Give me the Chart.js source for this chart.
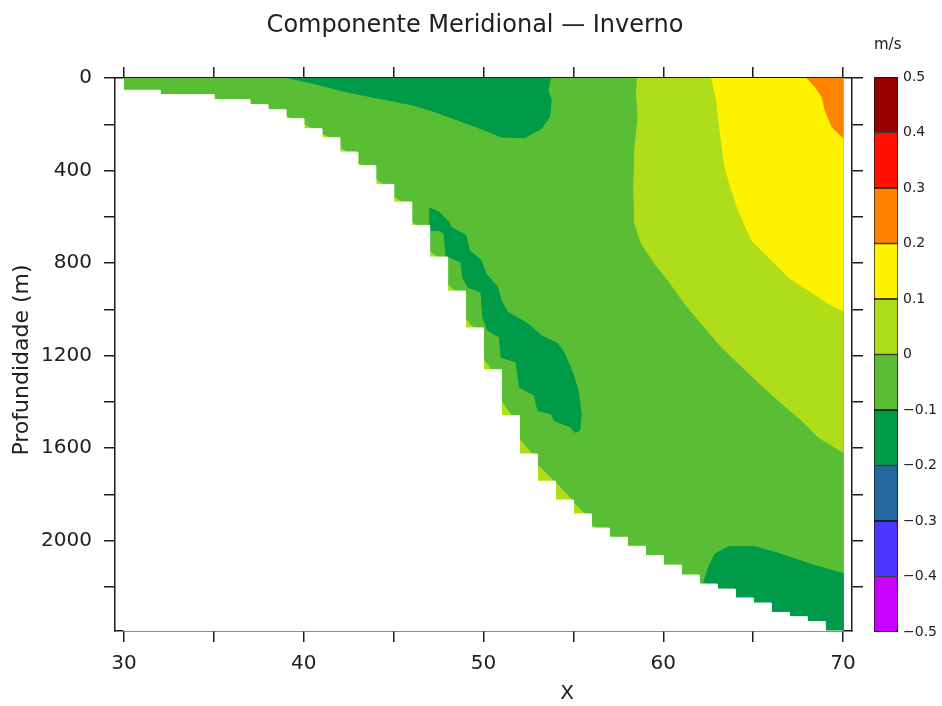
<!DOCTYPE html>
<html>
<head>
<meta charset="utf-8">
<title>Componente Meridional - Inverno</title>
<script src="https://cdn.jsdelivr.net/npm/chart.js@4.4.1/dist/chart.umd.min.js"></script>
<style>
  body { margin: 0; background: #fff; }
  #wrap { position: relative; width: 942px; height: 706px; }
  #secao { position: absolute; left: 0; top: 0; }
  #barra { position: absolute; left: 838px; top: 0; }
</style>
</head>
<body>
<div id="wrap">
  <canvas id="secao" width="942" height="706"></canvas>
  <canvas id="barra" width="104" height="706"></canvas>
</div>
<script>
const chartTitle = 'Componente Meridional \u2014 Inverno';
const xTitle = 'X';
const yTitle = 'Profundidade (m)';
const unitsTitle = 'm/s';

// axes
const xMin = 29.5, xMax = 70.5, depthMax = 2390;
const xTicks = [30, 35, 40, 45, 50, 55, 60, 65, 70];
const xLabeled = [30, 40, 50, 60, 70];
const depthTicks = [0, 200, 400, 600, 800, 1000, 1200, 1400, 1600, 1800, 2000, 2200];
const depthLabeled = [0, 400, 800, 1200, 1600, 2000];

// contour levels (m/s) and shading
const levels = [-0.5, -0.4, -0.3, -0.2, -0.1, 0, 0.1, 0.2, 0.3, 0.4, 0.5];
const levelColors = ['#c800ff', '#4b37ff', '#23689f', '#009b48', '#5abe34',
                     '#afdd1a', '#fff200', '#ff8200', '#ff1000', '#990000'];

// bottom topography: left edge of each grid column and its depth
const stepX = [30, 32, 35, 37, 38, 39, 40, 41, 42, 43, 44, 45, 46, 47, 48, 49, 50, 51,
               52, 53, 54, 55, 56, 57, 58, 59, 60, 61, 62, 63, 64, 65, 66, 67, 68, 69];
const stepDepth = [53, 72, 93, 115, 137, 176, 219, 258, 320, 378, 460, 536, 637, 774, 921, 1080, 1261, 1459,
                   1625, 1743, 1824, 1884, 1945, 1985, 2024, 2064, 2105, 2148, 2187, 2209, 2247, 2269, 2310, 2328, 2349, 2390];

// 0 .. 0.1 band (east side)
const posLowX = [58.56, 58.51, 58.6, 58.41, 58.36, 58.41, 58.79, 59.53, 60.28, 61.2, 62.13, 63.25,
                 64.36, 65.48, 66.41, 67.71, 68.64, 70, 70];
const posLowZ = [0, 67, 169, 313, 486, 630, 716, 803, 875, 976, 1062, 1164,
                 1247, 1329, 1394, 1481, 1553, 1618, 0];

// 0.1 .. 0.2 band
const posMidX = [62.69, 62.97, 63.07, 63.25, 63.43, 63.81, 64.18, 64.92, 65.85, 66.97, 68.09, 69.2, 70, 70];
const posMidZ = [0, 96, 169, 284, 385, 486, 572, 702, 774, 861, 918, 976, 1005, 0];

// 0.2 .. 0.3 band (surface, east corner)
const posHighX = [67.99, 68.46, 68.83, 69.01, 69.39, 70, 70];
const posHighZ = [0, 39, 82, 140, 212, 258, 0];

// -0.2 .. -0.1 cores: surface, along the slope, near the bottom
const negTopX = [39.2, 40.56, 42.42, 44.28, 46.14, 47.07, 48.37, 49.86, 50.98, 52.28, 53.21, 53.67, 53.77, 53.58, 53.73];
const negTopZ = [0, 24, 61, 89, 118, 140, 176, 219, 255, 258, 219, 169, 96, 53, 0];

const negSlopeX = [46.98, 47.53, 48.09, 48.19, 49.02, 49.21, 49.86, 50.14, 50.79, 50.98, 51.35, 52.47, 53.21,
                   54.14, 54.51, 54.98, 55.26, 55.44, 55.35, 55.07, 54.88, 53.95, 53.77, 53.02, 52.83, 52.0,
                   51.81, 50.98, 50.88, 50.23, 49.96, 49.86, 49.12, 48.84, 48.74, 47.91, 47.81, 47.53, 46.98];
const negSlopeZ = [561, 580, 623, 644, 680, 745, 788, 846, 904, 962, 1012, 1062, 1113,
                   1149, 1192, 1279, 1351, 1452, 1524, 1531, 1510, 1481, 1452, 1437, 1372, 1337,
                   1228, 1207, 1120, 1091, 1034, 926, 904, 861, 796, 767, 673, 659, 659];

const negBottomX = [62.23, 62.51, 62.88, 63.62, 65.11, 66.22, 67.34, 68.45, 70, 70, 62.23];
const negBottomZ = [2187, 2115, 2057, 2026, 2026, 2050, 2079, 2108, 2141, 2390, 2390];

// small 0 .. 0.1 wedges in the corners of the slope steps
const wedgeX = [39, 40, 41, 42, 43, 44, 45, 46, 47, 48, 49, 50, 51, 52, 53, 54, 55, 56];
const wedgeWidth = [0.39, 0.5, 0.5, 0.39, 0.28, 0.45, 0.45, 0.28, 0.45, 0.45, 0.45, 0.45, 0.56, 0.72, 0.95, 0.95, 0.67, 0.22];
const wedgeHeight = [13, 22, 17, 22, 13, 26, 26, 17, 26, 30, 43, 48, 65, 65, 73, 78, 52, 17];

const axisColor = '#1c1c1c';
const textColor = '#202020';
const fontFamily = '"DejaVu Sans", sans-serif';

function toPoints(xs, zs) {
  return xs.map((x, i) => ({ x: x, y: zs[i] }));
}

function bandColor(lo) {
  return levelColors[levels.indexOf(lo)];
}

function shape(points, color) {
  return {
    data: points,
    backgroundColor: color,
    borderColor: color,
    borderWidth: 1,
    fill: 'shape',
    pointRadius: 0,
    pointHitRadius: 0,
    tension: 0
  };
}

// land mask built from the column steps
const landPoints = [{ x: 30, y: depthMax }];
stepX.forEach((x, i) => {
  const right = i + 1 < stepX.length ? stepX[i + 1] : 70;
  landPoints.push({ x: x, y: stepDepth[i] }, { x: right, y: stepDepth[i] });
});
landPoints.push({ x: 70, y: depthMax });

// painting order, back to front
const layers = [
  shape(toPoints([30, 70, 70, 30], [0, 0, depthMax, depthMax]), bandColor(-0.1)),
  shape(toPoints(posLowX, posLowZ), bandColor(0)),
  shape(toPoints(posMidX, posMidZ), bandColor(0.1)),
  shape(toPoints(posHighX, posHighZ), bandColor(0.2)),
  shape(toPoints(negTopX, negTopZ), bandColor(-0.2)),
  shape(toPoints(negSlopeX, negSlopeZ), bandColor(-0.2)),
  shape(toPoints(negBottomX, negBottomZ), bandColor(-0.2))
];
wedgeX.forEach((x, i) => {
  const floor = stepDepth[stepX.indexOf(x)];
  layers.push(shape([
    { x: x, y: floor - wedgeHeight[i] },
    { x: x, y: floor },
    { x: x + wedgeWidth[i], y: floor }
  ], bandColor(0)));
});
layers.push(shape(landPoints, '#ffffff'));
layers.forEach((ds, i) => { ds.order = layers.length - i; });

function fixedTicks(values) {
  return scale => { scale.ticks = values.map(v => ({ value: v })); };
}

function frameAxis(extra) {
  return Object.assign({
    type: 'linear',
    display: true,
    z: 1,
    grid: { drawOnChartArea: false, drawTicks: true, tickLength: 11, color: axisColor, lineWidth: 1.5 },
    border: { display: true, color: axisColor, width: 1.5 },
    ticks: { display: false }
  }, extra);
}

const tickFont = { family: fontFamily, size: 20 };

const titles = {
  id: 'titles',
  afterDraw(chart) {
    const ctx = chart.ctx;
    ctx.save();
    ctx.fillStyle = textColor;
    ctx.textAlign = 'center';
    ctx.textBaseline = 'middle';
    ctx.font = '24px ' + fontFamily;
    ctx.fillText(chartTitle, 475, 26);
    ctx.font = '20px ' + fontFamily;
    ctx.fillText(xTitle, 567, 694);
    ctx.translate(22, 360);
    ctx.rotate(-Math.PI / 2);
    ctx.font = '22px ' + fontFamily;
    ctx.fillText(yTitle, 0, 0);
    ctx.restore();
  }
};

new Chart(document.getElementById('secao'), {
  type: 'line',
  data: { datasets: layers },
  options: {
    responsive: false,
    animation: false,
    layout: { padding: 0 },
    plugins: { legend: { display: false }, tooltip: { enabled: false } },
    scales: {
      x: frameAxis({
        position: 'bottom', min: xMin, max: xMax,
        afterBuildTicks: fixedTicks(xTicks),
        afterFit: s => { s.height = 75; },
        ticks: {
          display: true, font: tickFont, color: textColor, padding: 10,
          maxRotation: 0, autoSkip: false,
          callback: v => xLabeled.includes(v) ? String(v) : ''
        }
      }),
      xTop: frameAxis({
        position: 'top', min: xMin, max: xMax,
        afterBuildTicks: fixedTicks(xTicks),
        afterFit: s => { s.height = 78; }
      }),
      y: frameAxis({
        position: 'left', min: 0, max: depthMax, reverse: true,
        afterBuildTicks: fixedTicks(depthTicks),
        afterFit: s => { s.width = 115; },
        ticks: {
          display: true, font: tickFont, color: textColor, padding: 12, autoSkip: false,
          callback: v => depthLabeled.includes(v) ? String(v) : ''
        }
      }),
      yRight: frameAxis({
        position: 'right', min: 0, max: depthMax, reverse: true,
        afterBuildTicks: fixedTicks(depthTicks),
        afterFit: s => { s.width = 90; }
      })
    }
  },
  plugins: [titles]
});

// colour key
function levelLabel(v) {
  const r = Math.round(v * 10) / 10;
  if (r === 0) return '0';
  return r < 0 ? '\u2212' + Math.abs(r).toFixed(1) : r.toFixed(1);
}

new Chart(document.getElementById('barra'), {
  type: 'bar',
  data: {
    labels: [''],
    datasets: levelColors.map((c, i) => ({
      data: [[levels[i], levels[i + 1]]],
      backgroundColor: c,
      borderColor: '#111',
      borderWidth: 1,
      borderSkipped: false,
      barPercentage: 1,
      categoryPercentage: 1,
      grouped: false
    }))
  },
  options: {
    responsive: false,
    animation: false,
    layout: { padding: { left: 36, right: 0, top: 0, bottom: 74 } },
    plugins: {
      legend: { display: false },
      tooltip: { enabled: false },
      title: {
        display: true, text: unitsTitle, align: 'start', color: textColor,
        font: { family: fontFamily, size: 15, weight: 'normal' },
        padding: { top: 36, bottom: 23 }
      }
    },
    scales: {
      x: { display: false },
      y: {
        position: 'right', min: -0.5, max: 0.5,
        afterBuildTicks: fixedTicks(levels),
        afterFit: s => { s.width = 44; },
        grid: { display: false, drawTicks: false },
        border: { display: false },
        ticks: { font: { family: fontFamily, size: 14 }, color: textColor, padding: 5, callback: levelLabel }
      }
    }
  }
});
</script>
</body>
</html>
